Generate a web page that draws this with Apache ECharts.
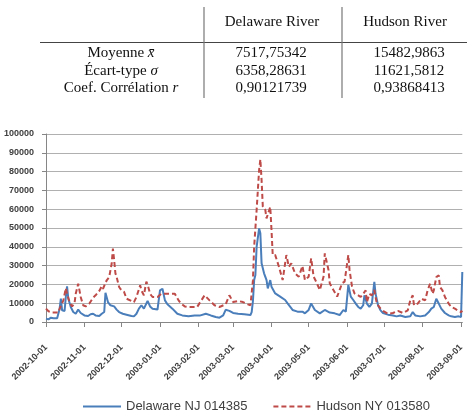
<!DOCTYPE html>
<html>
<head>
<meta charset="utf-8">
<script src="https://cdn.jsdelivr.net/npm/echarts@6/dist/echarts.min.js"></script>
<style>
  html, body { margin: 0; padding: 0; background: #fff; }
  #chart { width: 471px; height: 412px; }
</style>
</head>
<body>
<div id="chart"></div>
<script>
// table values
const tableCols = ["Delaware River", "Hudson River"];
const tableRows = ["Moyenne {i|x̄}", "Écart-type {i|σ}", "Coef. Corrélation {i|r}"];
const delawareStats = ["7517,75342", "6358,28631", "0,90121739"];
const hudsonStats = ["15482,9863", "11621,5812", "0,93868413"];

// x axis month labels
const monthTicks = ["2002-10-01", "2002-11-01", "2002-12-01", "2003-01-01", "2003-02-01", "2003-03-01",
  "2003-04-01", "2003-05-01", "2003-06-01", "2003-07-01", "2003-08-01", "2003-09-01"];

// day offsets from 2002-10-01 and flows
const delawareDay = [0, 2, 4, 6, 9, 10, 11, 12, 13, 15, 16, 17, 18, 20, 22, 24, 26, 28, 31, 34, 36, 38, 40, 43, 45,
  47, 48, 50, 52, 53, 55, 57, 59, 62, 65, 69, 71, 73, 75, 77, 79, 82, 84, 86, 90, 92, 94, 96, 98, 102, 106, 110,
  115, 120, 124, 129, 133, 137, 140, 143, 145, 148, 151, 155, 160, 165, 166, 167, 168, 169, 170, 172, 173, 174,
  176, 178, 179, 181, 182, 185, 189, 193, 195, 199, 203, 207, 209, 212, 214, 217, 221, 225, 229, 233, 237, 240,
  242, 244, 246, 248, 250, 252, 254, 256, 257, 259, 261, 263, 265, 266, 268, 270, 272, 276, 280, 283, 286, 290,
  294, 296, 298, 302, 306, 309, 311, 313, 314, 315, 317, 319, 322, 325, 327, 330, 333, 335, 336];
const delawareFlow = [1800, 1400, 2300, 2000, 2000, 3000, 7100, 12400, 6200, 5900, 13300, 19000, 12500, 8000, 5300,
  4400, 6600, 4800, 3500, 3200, 4100, 4400, 3500, 3200, 4400, 5300, 15500, 10600, 8900, 9800, 8300, 6600, 5300,
  4400, 3900, 3200, 3000, 4400, 7100, 8900, 7100, 11200, 8300, 7100, 6600, 16800, 17700, 11500, 9400, 7100, 4400,
  3500, 3000, 3500, 3400, 4400, 3500, 2700, 2300, 3500, 6500, 5900, 4800, 4400, 4100, 3700, 5300, 11000, 22300,
  25000, 40000, 49800, 47200, 31200, 25900, 22300, 17900, 22300, 18800, 15200, 13500, 11700, 9900, 6400, 5500,
  5500, 4600, 6400, 9900, 6400, 4600, 6400, 5000, 4600, 3700, 6400, 5500, 19700, 13500, 11700, 9800, 8000, 7100,
  8900, 14200, 9800, 8000, 9800, 21300, 15000, 8900, 6200, 4800, 3900, 3500, 3000, 3500, 2700, 3000, 5300, 3500,
  3000, 3500, 5300, 7100, 8000, 8900, 12400, 9800, 7100, 4800, 3500, 3000, 2700, 3000, 2700, 26600];

const hudsonDay = [0, 2, 5, 10, 11, 14, 16, 17, 19, 21, 23, 24, 26, 28, 30, 32, 35, 38, 40, 43, 45, 46, 49, 51, 53,
  54, 55, 56, 57, 59, 61, 63, 65, 69, 71, 73, 76, 77, 79, 81, 82, 84, 86, 90, 93, 98, 104, 107, 109, 112, 115,
  122, 128, 132, 136, 140, 145, 148, 151, 155, 159, 163, 165, 166, 167, 168, 170, 171, 172, 173, 174, 175, 177,
  178, 179, 181, 182, 183, 185, 188, 191, 194, 196, 198, 201, 204, 207, 209, 212, 214, 216, 218, 221, 224, 225,
  228, 229, 232, 235, 239, 241, 244, 245, 247, 249, 252, 254, 256, 258, 259, 261, 263, 265, 267, 270, 272, 276,
  280, 284, 288, 292, 294, 296, 297, 300, 303, 306, 308, 310, 312, 313, 315, 317, 318, 320, 322, 325, 327, 330,
  333, 335, 336];
const hudsonFlow = [7100, 5700, 5000, 5000, 7100, 11500, 18000, 15000, 10600, 8300, 9800, 15000, 20400, 13300, 8900,
  8300, 9800, 12900, 14200, 16500, 19000, 17700, 22200, 23900, 31000, 39000, 33000, 26000, 23900, 18600, 16800,
  16000, 12400, 11200, 10600, 13300, 19500, 16800, 14200, 21500, 20000, 15000, 13300, 13300, 15000, 15000, 15000,
  11500, 9800, 8300, 8000, 8000, 14200, 11500, 8900, 8000, 9400, 14200, 10600, 11200, 10600, 9400, 8900, 9900,
  22000, 40000, 59600, 70200, 80800, 86500, 75500, 61300, 59600, 55100, 54300, 61300, 48900, 35600, 35600, 29400,
  22300, 35600, 29400, 31200, 25900, 24100, 29800, 22300, 24100, 33900, 24100, 21500, 17000, 24100, 36500, 27700,
  20600, 17000, 13500, 20600, 21500, 35600, 27700, 18800, 15200, 14200, 13300, 15000, 16800, 10600, 15000, 14200,
  17000, 9800, 7100, 5900, 4400, 4800, 5900, 4800, 6200, 11500, 14200, 8900, 9800, 12400, 11500, 16800, 20400,
  15000, 16800, 23900, 24800, 18600, 16800, 13300, 9800, 8000, 7100, 5900, 5300, 6000];

function dayOf(s) {
  const p = s.split("-");
  const t = Date.UTC(+p[0], +p[1] - 1, +p[2]) - Date.UTC(2002, 9, 1);
  return Math.round(t / 86400000);
}
const monthDays = monthTicks.map(dayOf);

const chart = echarts.init(document.getElementById("chart"));

const serif = '"Liberation Serif", "Times New Roman", serif';
const tableText = [];
const colX = [272, 405];
tableCols.forEach((c, i) => {
  tableText.push({ type: "text", x: colX[i], y: 22,
    style: { text: c, fontFamily: serif, fontSize: 15, fill: "#111", align: "center", verticalAlign: "middle" } });
});
const rowY = [53, 71, 88];
tableRows.forEach((r, i) => {
  tableText.push({ type: "text", x: 121, y: rowY[i],
    style: { text: r, fontFamily: serif, fontSize: 15, fill: "#111", align: "center", verticalAlign: "middle",
      rich: { i: { fontFamily: serif, fontSize: 15, fontStyle: "italic", fill: "#111" } } } });
  tableText.push({ type: "text", x: 271, y: rowY[i],
    style: { text: delawareStats[i], fontFamily: serif, fontSize: 15, fill: "#111", align: "center", verticalAlign: "middle" } });
  tableText.push({ type: "text", x: 409, y: rowY[i],
    style: { text: hudsonStats[i], fontFamily: serif, fontSize: 15, fill: "#111", align: "center", verticalAlign: "middle" } });
});

const tableLines = [
  { type: "line", shape: { x1: 40, y1: 42.5, x2: 467, y2: 42.5 }, style: { stroke: "#444", lineWidth: 1 } },
  { type: "line", shape: { x1: 204, y1: 7, x2: 204, y2: 98 }, style: { stroke: "#777", lineWidth: 1.2 } },
  { type: "line", shape: { x1: 342, y1: 7, x2: 342, y2: 98 }, style: { stroke: "#777", lineWidth: 1.2 } },
];

const axisFont = { fontFamily: '"Liberation Sans", Arial, sans-serif', fontSize: 9, fontWeight: "bold", color: "#404040" };

chart.setOption({
  animation: false,
  graphic: tableLines.concat(tableText),
  grid: { left: 46, right: 8.7, top: 134, bottom: 90 },
  legend: {
    left: 82,
    top: 400,
    padding: 0,
    itemWidth: 38,
    itemHeight: 14,
    itemGap: 25,
    itemStyle: { opacity: 0 },
    textStyle: { fontFamily: '"Liberation Sans", Arial, sans-serif', fontSize: 13, color: "#404040" },
    data: ["Delaware NJ 014385", "Hudson NY 013580"],
  },
  xAxis: {
    type: "value",
    min: 0,
    max: 336,
    axisLine: { lineStyle: { color: "#868686", width: 1 } },
    axisTick: { show: true, length: 5, customValues: monthDays, lineStyle: { color: "#868686" } },
    splitLine: { show: false },
    axisLabel: Object.assign({
      rotate: 45,
      margin: 24,
      customValues: monthDays,
      formatter: (v) => monthTicks[monthDays.indexOf(Math.round(v))] || "",
    }, axisFont),
  },
  yAxis: {
    type: "value",
    min: 0,
    max: 100000,
    interval: 10000,
    axisLine: { show: true, lineStyle: { color: "#868686", width: 1 } },
    axisTick: { show: true, length: 4, lineStyle: { color: "#868686" } },
    splitLine: { lineStyle: { color: "#b0b0b0", width: 1 } },
    axisLabel: Object.assign({ margin: 12, formatter: (v) => String(v) }, axisFont),
  },
  series: [
    {
      name: "Delaware NJ 014385",
      type: "line",
      showSymbol: false,
      symbol: "none",
      data: delawareDay.map((d, i) => [d, delawareFlow[i]]),
      lineStyle: { color: "#4a7ebb", width: 2 },
      itemStyle: { color: "#4a7ebb" },
    },
    {
      name: "Hudson NY 013580",
      type: "line",
      showSymbol: false,
      symbol: "none",
      data: hudsonDay.map((d, i) => [d, hudsonFlow[i]]),
      lineStyle: { color: "#be4b48", width: 2, type: [5, 3] },
      itemStyle: { color: "#be4b48" },
    },
  ],
});
</script>
</body>
</html>
